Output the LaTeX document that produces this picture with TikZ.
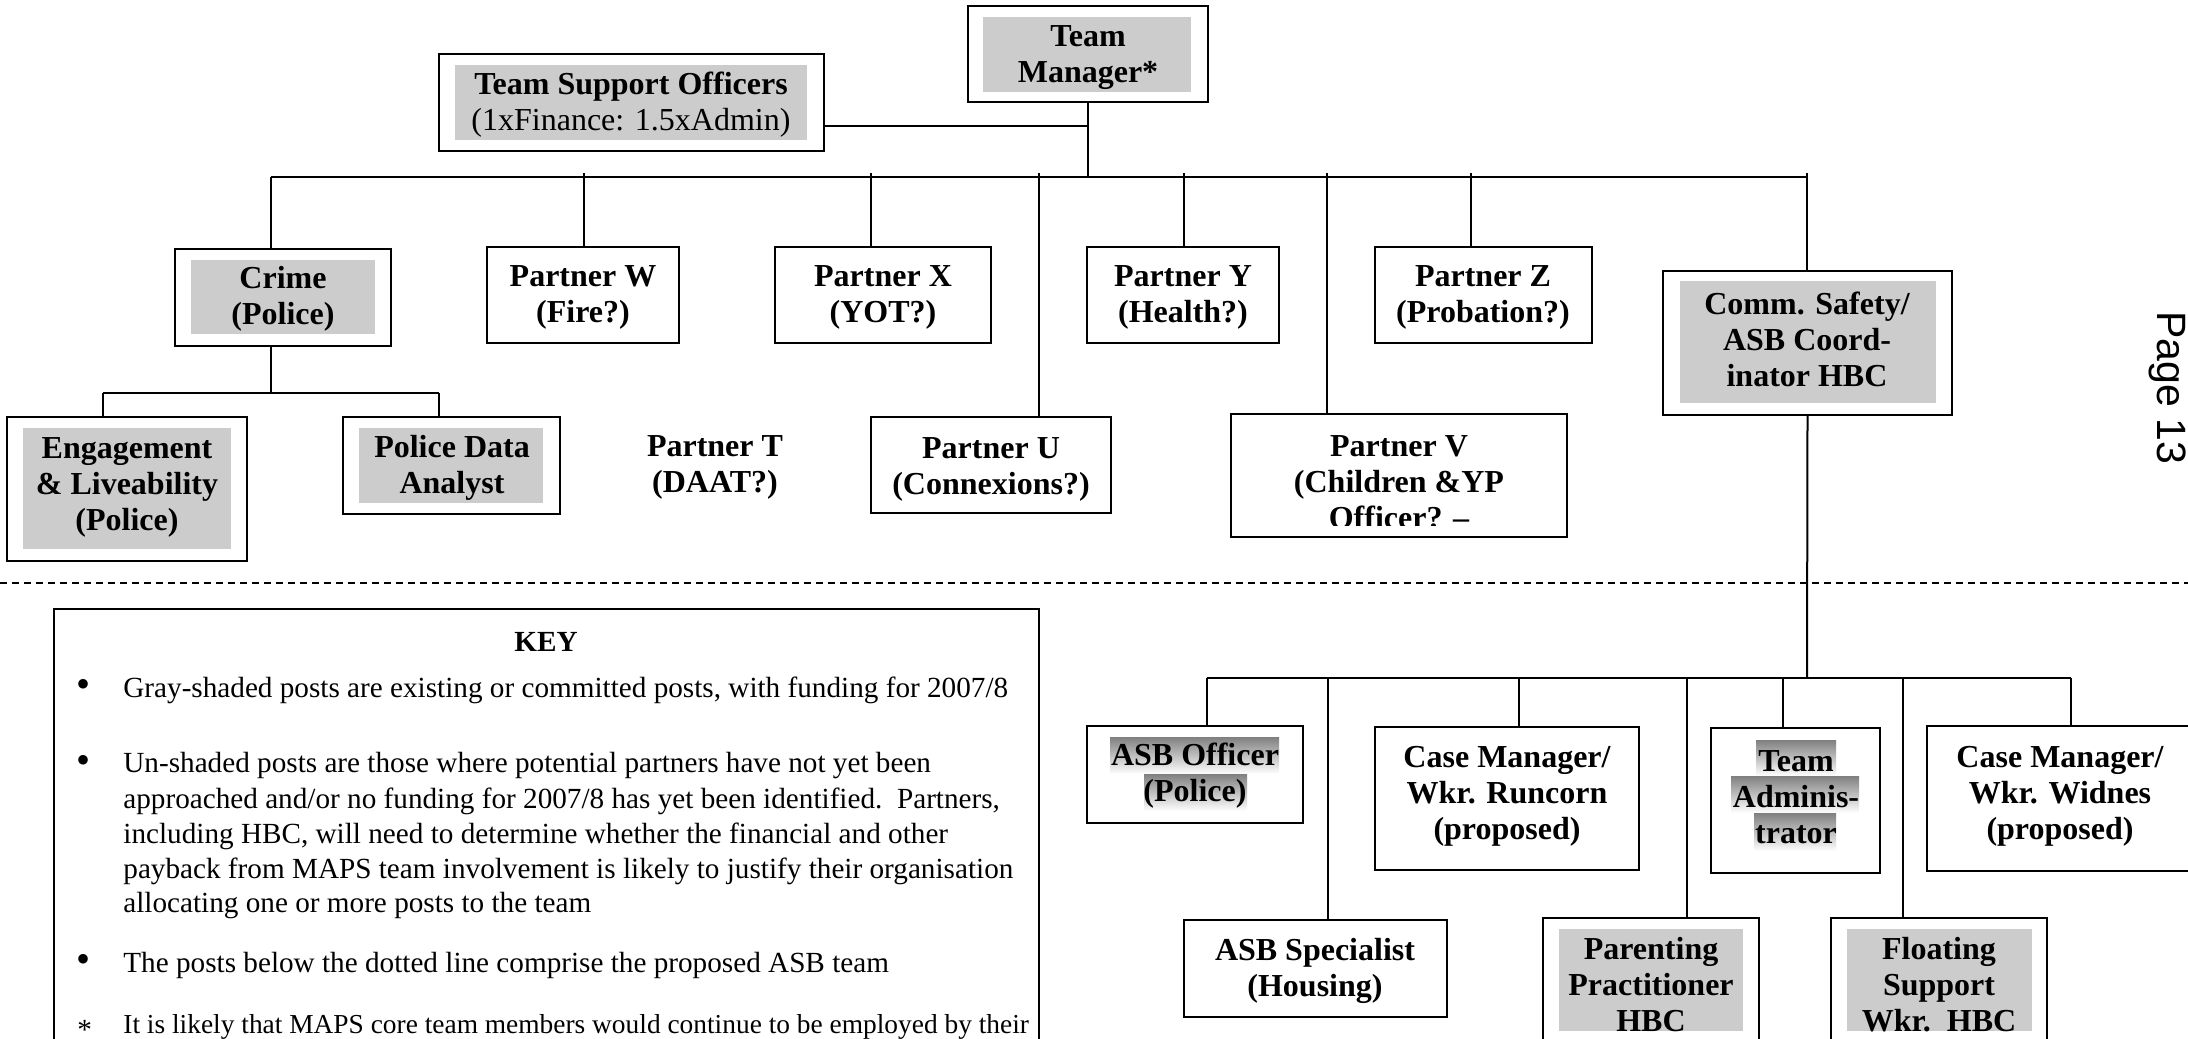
\documentclass[tikz,border=0pt]{standalone}
\usepackage{fontspec}
\setmainfont{Liberation Serif}
\newfontfamily\arialfont{Liberation Sans}
\usetikzlibrary{fit}
\definecolor{shade}{gray}{0.8}
\tikzset{
 obox/.style={draw, line width=1.2pt, inner sep=0pt},
 gbox/.style={fill=shade, inner sep=0pt},
 btxt/.style={font=\fontsize{16pt}{18pt}\selectfont\bfseries, align=center, inner sep=0pt},
 ktxt/.style={font=\fontsize{14.6pt}{17pt}\selectfont, anchor=west, inner sep=0pt},
 kbul/.style={font=\fontsize{20pt}{20pt}\selectfont, inner sep=0pt},
 conn/.style={line width=1pt},
}
\begin{document}
\begin{tikzpicture}[x=0.5pt,y=-0.5pt]
\useasboundingbox (0,0) rectangle (2188,1038);
\clip (0,0) rectangle (2188,1038);
\fill[white] (0,0) rectangle (2188,1038);

% ---------- top level ----------
\node[obox, fit={(968,6)(1208,102)}] (tm) {};
\node[gbox, fit={(983,17)(1191,92)}] (tmg) {};
\node[btxt] (tmt) at (1088,58) {Team\\Manager*};

\node[obox, fit={(439,54)(824,151)}] (tso) {};
\node[gbox, fit={(455,65)(807,140)}] (tsog) {};
\node[btxt] (tsot) at (631,105) {Team Support Officers\\\mdseries(1xFinance: 1.5xAdmin)};

% ---------- partners ----------
\node[obox, fit={(175,249)(391,346)}] (cr) {};
\node[gbox, fit={(191,260)(375,334)}] (crg) {};
\node[btxt] (crt) at (283,299) {Crime\\(Police)};

\node[obox, fit={(487,247)(679,343)}] (pw) {};
\node[btxt] (pwt) at (583,297) {Partner W\\(Fire?)};

\node[obox, fit={(775,247)(991,343)}] (px) {};
\node[btxt] (pxt) at (883,297) {Partner X\\(YOT?)};

\node[obox, fit={(1087,247)(1279,343)}] (py) {};
\node[btxt] (pyt) at (1183,297) {Partner Y\\(Health?)};

\node[obox, fit={(1375,247)(1592,343)}] (pz) {};
\node[btxt] (pzt) at (1483,297) {Partner Z\\(Probation?)};

\node[obox, fit={(1663,271)(1952,415)}] (cs) {};
\node[gbox, fit={(1680,281)(1936,403)}] (csg) {};
\node[btxt] (cst) at (1807,339) {Comm. Safety/\\ASB Coord-\\inator HBC};

\node[obox, fit={(7,417)(247,561)}] (el) {};
\node[gbox, fit={(23,428)(231,549)}] (elg) {};
\node[btxt] (elt) at (127,487) {Engagement\\\& Liveability\\(Police)};

\node[obox, fit={(343,417)(560,514)}] (pd) {};
\node[gbox, fit={(359,428)(543,503)}] (pdg) {};
\node[btxt] (pdt) at (452,468) {Police Data\\Analyst};

\node[btxt] (ptt) at (715,467) {Partner T\\(DAAT?)};

\node[obox, fit={(871,417)(1111,513)}] (pu) {};
\node[btxt] (put) at (991,469) {Partner U\\(Connexions?)\vphantom{p}};

\node[obox, fit={(1231,414)(1567,537)}] (pv) {};
\begin{scope}
\clip (1231,414) rectangle (1567,525);
\node[btxt] (pvt) at (1399,482) {Partner V\\(Children \&YP\\Officer? --};
\end{scope}

% ---------- connectors, top ----------
\coordinate (tmj) at (1087,126);
\coordinate (busL) at (271,177);
\coordinate (busR) at (1808,177);
\draw[conn] (tm.south) -- (tm.south |- busL);
\draw[conn] (tso.east |- tmj) -- (tmj);
\draw[line width=1.2pt] (busL) -- (busR);
\coordinate (dcr) at (271,177);
\coordinate (dw) at (584,173);
\coordinate (dx) at (871,173);
\coordinate (du) at (1039,173);
\coordinate (dy) at (1184,173);
\coordinate (dv) at (1327,173);
\coordinate (dz) at (1471,173);
\coordinate (dcs) at (1807,173);
\draw[conn] (dcr) -- (dcr |- cr.north);
\draw[conn] (dw) -- (dw |- pw.north);
\draw[conn] (dx) -- (dx |- px.north);
\draw[conn] (du) -- (du |- pu.north);
\draw[conn] (dy) -- (dy |- py.north);
\draw[conn] (dv) -- (dv |- pv.north);
\draw[conn] (dz) -- (dz |- pz.north);
\draw[conn] (dcs) -- (dcs |- cs.north);

% crime sub-tree
\coordinate (cbus) at (271,393);
\coordinate (cbL) at (103,393);
\coordinate (cbR) at (439,393);
\draw[conn] (cbus |- cr.south) -- (cbus);
\draw[conn] (cbL) -- (cbR);
\draw[conn] (cbL) -- (cbL |- el.north);
\draw[conn] (cbR) -- (cbR |- pd.north);

% ---------- dashed separator ----------
\coordinate (dashL) at (0,583);
\coordinate (dashR) at (2188,583);
\draw[line width=1pt, dash pattern=on 3.5pt off 2.5pt] (dashL) -- (dashR);

% ---------- ASB team ----------
\node[obox, fit={(1087,726)(1303,823)}] (ao) {};
\fill[shade] (1110,737) rectangle (1279,774);
\fill[shade] (1144,774) rectangle (1247,811);
\node[btxt] (aot) at (1195,776) {ASB Officer\\(Police)};

\node[obox, fit={(1184,920)(1447,1017)}] (as) {};
\node[btxt] (ast) at (1315,971) {ASB Specialist\\(Housing)};

\node[obox, fit={(1375,727)(1639,870)}] (cmr) {};
\node[btxt] (cmrt) at (1507,796) {Case Manager/\\Wkr. Runcorn\\(proposed)};

\node[obox, fit={(1543,918)(1759,1100)}] (pp) {};
\node[gbox, fit={(1559,929)(1743,1031)}] (ppg) {};
\begin{scope}
\clip (1543,918) rectangle (1759,1031);
\node[btxt] (ppt) at (1651,985) {Parenting\\Practitioner\\HBC};
\end{scope}

\node[obox, fit={(1711,728)(1880,873)}] (ta) {};
\fill[shade] (1756,740) rectangle (1836,776);
\fill[shade] (1731,776) rectangle (1859,813);
\fill[shade] (1754,813) rectangle (1836,851);
\node[btxt] (tat) at (1796,797) {Team\\Adminis-\\trator};

\node[obox, fit={(1831,918)(2047,1100)}] (fs) {};
\node[gbox, fit={(1847,929)(2032,1031)}] (fsg) {};
\begin{scope}
\clip (1831,918) rectangle (2047,1031);
\node[btxt] (fst) at (1939,985) {Floating\\Support\\Wkr.~~HBC};
\end{scope}

\node[obox, fit={(1927,726)(2230,871)}] (cmw) {};
\node[btxt] (cmwt) at (2060,796) {Case Manager/\\Wkr. Widnes\\(proposed)};

\coordinate (abus) at (1807,678);
\coordinate (abL) at (1207,678);
\coordinate (abR) at (2071,678);
\draw[conn] (cs.south) -- (abus);
\draw[line width=1.2pt] (abL) -- (abR);
\coordinate (a1) at (1207,678);
\coordinate (a2) at (1328,678);
\coordinate (a3) at (1519,678);
\coordinate (a4) at (1687,678);
\coordinate (a5) at (1783,678);
\coordinate (a6) at (1903,678);
\coordinate (a7) at (2071,678);
\draw[conn] (a1) -- (a1 |- ao.north);
\draw[conn] (a2) -- (a2 |- as.north);
\draw[conn] (a3) -- (a3 |- cmr.north);
\draw[conn] (a4) -- (a4 |- pp.north);
\draw[conn] (a5) -- (a5 |- ta.north);
\draw[conn] (a6) -- (a6 |- fs.north);
\draw[conn] (a7) -- (a7 |- cmw.north);

% ---------- key ----------
\node[obox, fit={(54,609)(1039,1100)}] (key) {};
\node[font=\fontsize{14.6pt}{17pt}\selectfont\bfseries, inner sep=0pt] (keyt) at (546,642) {KEY};
\node[kbul] (b1) at (83,688) {\textbullet};
\node[ktxt] (k1) at (123,690) {Gray-shaded posts are existing or committed posts, with funding for 2007/8};
\node[kbul] (b2) at (83,764) {\textbullet};
\node[ktxt] (k2a) at (123,766) {Un-shaded posts are those where potential partners have not yet been};
\node[ktxt] (k2b) at (123,801) {approached and/or no funding for 2007/8 has yet been identified.\ \ Partners,};
\node[ktxt] (k2c) at (123,836) {including HBC, will need to determine whether the financial and other};
\node[ktxt] (k2d) at (123,871) {payback from MAPS team involvement is likely to justify their organisation};
\node[ktxt] (k2e) at (123,906) {allocating one or more posts to the team};
\node[kbul] (b3) at (83,963) {\textbullet};
\node[ktxt] (k3) at (123,965) {The posts below the dotted line comprise the proposed ASB team};
\node[ktxt] (b4) at (77,1030) {*};
\node[ktxt, font=\fontsize{13.7pt}{17pt}\selectfont] (k4) at (123,1027) {It is likely that MAPS core team members would continue to be employed by their};

% ---------- page number ----------
\node[font=\arialfont\fontsize{20.5pt}{24pt}\selectfont, rotate=-90, inner sep=0pt] (pg) at (2168,388) {Page 13};
\end{tikzpicture}
\end{document}
